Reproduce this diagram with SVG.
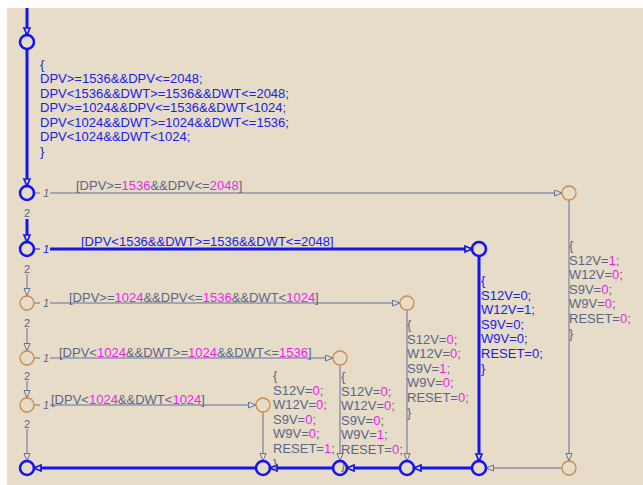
<svg xmlns="http://www.w3.org/2000/svg" width="643" height="485" viewBox="0 0 643 485">
<style>
text{font-family:"Liberation Sans",Arial,sans-serif;font-size:13px}
.g{fill:#5b6685}
.b{fill:#2020e6}
.m{fill:#f01ef0}
.sm{font-size:11px}
.it{font-style:italic}
.lt{fill:none;stroke:#6470a0;stroke-width:1}
.lb{fill:none;stroke:#1414f0;stroke-width:3}
.st{fill:none;stroke:#6470a0;stroke-width:1}
.cb{fill:none;stroke:#1414f0;stroke-width:2.6}
.co{fill:none;stroke:#cc8c4e;stroke-width:1.3}
</style>
<defs>
<marker id="at" markerUnits="userSpaceOnUse" markerWidth="10" markerHeight="8" refX="8" refY="3.5" orient="auto">
<path d="M0.5,0.5 L8,3.5 L0.5,6.5 z" fill="#e6dcc8" stroke="#6470a0" stroke-width="1"/>
</marker>
<marker id="ab" markerUnits="userSpaceOnUse" markerWidth="10" markerHeight="9" refX="8" refY="4" orient="auto">
<path d="M1,1 L8,4 L1,7 z" fill="#e6dcc8" stroke="#1414f0" stroke-width="1.7"/>
</marker>
</defs>
<rect x="0" y="0" width="643" height="485" fill="#ffffff"/>
<rect x="7" y="8" width="636" height="477" fill="#e6dcc8"/>

<g id="connectors">
<path class="lb" d="M27,8 V35" marker-end="url(#ab)"/>
<path class="lb" d="M27,49 V186" marker-end="url(#ab)"/>
<path class="lb" d="M27,219 V242" marker-end="url(#ab)"/>
<path class="lt" d="M27,274 V296" marker-end="url(#at)"/>
<path class="lt" d="M27,328 V351" marker-end="url(#at)"/>
<path class="lt" d="M27,381 V398" marker-end="url(#at)"/>
<path class="lt" d="M27,429 V461" marker-end="url(#at)"/>

<path class="st" d="M34,193 H40"/>
<path class="lt" d="M50,193 H562" marker-end="url(#at)"/>
<path class="st" d="M34,249 H40" style="stroke:#1414f0"/>
<path class="lb" d="M50,249 H472" marker-end="url(#ab)"/>
<path class="st" d="M34,303 H40"/>
<path class="lt" d="M50,303 H400" marker-end="url(#at)"/>
<path class="st" d="M34,358 H40"/>
<path class="lt" d="M50,358 H333" marker-end="url(#at)"/>
<path class="st" d="M34,405 H40"/>
<path class="lt" d="M50,405 H256" marker-end="url(#at)"/>

<path class="lt" d="M569,200 V461" marker-end="url(#at)"/>
<path class="lb" d="M479,256 V461" marker-end="url(#ab)"/>
<path class="lt" d="M407,310 V461" marker-end="url(#at)"/>
<path class="lt" d="M340,365 V461" marker-end="url(#at)"/>
<path class="lt" d="M263,412 V461" marker-end="url(#at)"/>

<path class="lt" d="M562,468 H486" marker-end="url(#at)"/>
<path class="lb" d="M472,468 H414" marker-end="url(#ab)"/>
<path class="lb" d="M400,468 H347" marker-end="url(#ab)"/>
<path class="lb" d="M333,468 H270" marker-end="url(#ab)"/>
<path class="lb" d="M256,468 H34" marker-end="url(#ab)"/>

<text class="g sm it" x="43" y="197">1</text>
<text class="b sm it" x="43" y="253">1</text>
<text class="g sm it" x="43" y="307">1</text>
<text class="g sm it" x="43" y="362">1</text>
<text class="g sm it" x="43" y="409">1</text>
<text class="g sm" x="27" y="217" text-anchor="middle">2</text>
<text class="g sm" x="27" y="273" text-anchor="middle">2</text>
<text class="g sm" x="27" y="327" text-anchor="middle">2</text>
<text class="g sm" x="27" y="380" text-anchor="middle">2</text>
<text class="g sm" x="27" y="428" text-anchor="middle">2</text>

<text class="g" x="76" y="190">[DPV&gt;=<tspan class="m">1536</tspan>&amp;&amp;DPV&lt;=<tspan class="m">2048</tspan>]</text>
<text class="b" x="81" y="246">[DPV&lt;1536&amp;&amp;DWT&gt;=1536&amp;&amp;DWT&lt;=2048]</text>
<text class="g" x="69" y="302">[DPV&gt;=<tspan class="m">1024</tspan>&amp;&amp;DPV&lt;=<tspan class="m">1536</tspan>&amp;&amp;DWT&lt;<tspan class="m">1024</tspan>]</text>
<text class="g" x="59" y="357">[DPV&lt;<tspan class="m">1024</tspan>&amp;&amp;DWT&gt;=<tspan class="m">1024</tspan>&amp;&amp;DWT&lt;=<tspan class="m">1536</tspan>]</text>
<text class="g" x="51" y="404">[DPV&lt;<tspan class="m">1024</tspan>&amp;&amp;DWT&lt;<tspan class="m">1024</tspan>]</text>
</g>

<g id="entry">
<circle class="cb" cx="27" cy="42" r="7"/>
<text class="b">
<tspan x="40" y="68.5">{</tspan>
<tspan x="40" y="83">DPV&gt;=1536&amp;&amp;DPV&lt;=2048;</tspan>
<tspan x="40" y="97.6">DPV&lt;1536&amp;&amp;DWT&gt;=1536&amp;&amp;DWT&lt;=2048;</tspan>
<tspan x="40" y="112.2">DPV&gt;=1024&amp;&amp;DPV&lt;=1536&amp;&amp;DWT&lt;1024;</tspan>
<tspan x="40" y="126.8">DPV&lt;1024&amp;&amp;DWT&gt;=1024&amp;&amp;DWT&lt;=1536;</tspan>
<tspan x="40" y="141.4">DPV&lt;1024&amp;&amp;DWT&lt;1024;</tspan>
<tspan x="40" y="156">}</tspan>
</text>
</g>
<g id="j1"><circle class="cb" cx="27" cy="193" r="7"/></g>
<g id="j2"><circle class="cb" cx="27" cy="249" r="7"/></g>
<g id="j3"><circle class="co" cx="27" cy="303" r="7"/></g>
<g id="j4"><circle class="co" cx="27" cy="358" r="7"/></g>
<g id="j5"><circle class="co" cx="27" cy="405" r="7"/></g>
<g id="j6"><circle class="cb" cx="27" cy="468" r="7"/></g>

<g id="s1">
<circle class="co" cx="569" cy="193" r="7"/>
<text class="g">
<tspan x="569" y="250">{</tspan>
<tspan x="569" y="264.6">S12V=<tspan class="m">1</tspan>;</tspan>
<tspan x="569" y="279.2">W12V=<tspan class="m">0</tspan>;</tspan>
<tspan x="569" y="293.8">S9V=<tspan class="m">0</tspan>;</tspan>
<tspan x="569" y="308.4">W9V=<tspan class="m">0</tspan>;</tspan>
<tspan x="569" y="323">RESET=<tspan class="m">0</tspan>;</tspan>
<tspan x="569" y="337.6">}</tspan>
</text>
</g>
<g id="s2">
<circle class="cb" cx="479" cy="249" r="7"/>
<text class="b">
<tspan x="481" y="285">{</tspan>
<tspan x="481" y="299.6">S12V=0;</tspan>
<tspan x="481" y="314.2">W12V=1;</tspan>
<tspan x="481" y="328.8">S9V=0;</tspan>
<tspan x="481" y="343.4">W9V=0;</tspan>
<tspan x="481" y="358">RESET=0;</tspan>
<tspan x="481" y="372.6">}</tspan>
</text>
</g>
<g id="s3">
<circle class="co" cx="407" cy="303" r="7"/>
<text class="g">
<tspan x="407" y="329">{</tspan>
<tspan x="407" y="343.6">S12V=<tspan class="m">0</tspan>;</tspan>
<tspan x="407" y="358.2">W12V=<tspan class="m">0</tspan>;</tspan>
<tspan x="407" y="372.8">S9V=<tspan class="m">1</tspan>;</tspan>
<tspan x="407" y="387.4">W9V=<tspan class="m">0</tspan>;</tspan>
<tspan x="407" y="402">RESET=<tspan class="m">0</tspan>;</tspan>
<tspan x="407" y="416.6">}</tspan>
</text>
</g>
<g id="s4">
<circle class="co" cx="340" cy="358" r="7"/>
<text class="g">
<tspan x="341" y="381">{</tspan>
<tspan x="341" y="395.6">S12V=<tspan class="m">0</tspan>;</tspan>
<tspan x="341" y="410.2">W12V=<tspan class="m">0</tspan>;</tspan>
<tspan x="341" y="424.8">S9V=<tspan class="m">0</tspan>;</tspan>
<tspan x="341" y="439.4">W9V=<tspan class="m">1</tspan>;</tspan>
<tspan x="341" y="454">RESET=<tspan class="m">0</tspan>;</tspan>
<tspan x="341" y="468.6">}</tspan>
</text>
</g>
<g id="s5">
<circle class="co" cx="263" cy="405" r="7"/>
<text class="g">
<tspan x="273" y="380">{</tspan>
<tspan x="273" y="394.6">S12V=<tspan class="m">0</tspan>;</tspan>
<tspan x="273" y="409.2">W12V=<tspan class="m">0</tspan>;</tspan>
<tspan x="273" y="423.8">S9V=<tspan class="m">0</tspan>;</tspan>
<tspan x="273" y="438.4">W9V=<tspan class="m">0</tspan>;</tspan>
<tspan x="273" y="453">RESET=<tspan class="m">1</tspan>;</tspan>
<tspan x="273" y="467.6">}</tspan>
</text>
</g>
<g id="b1"><circle class="co" cx="569" cy="468" r="7"/></g>
<g id="b2"><circle class="cb" cx="479" cy="468" r="7"/></g>
<g id="b3"><circle class="cb" cx="407" cy="468" r="7"/></g>
<g id="b4"><circle class="cb" cx="340" cy="468" r="7"/></g>
<g id="b5"><circle class="cb" cx="263" cy="468" r="7"/></g>
</svg>
